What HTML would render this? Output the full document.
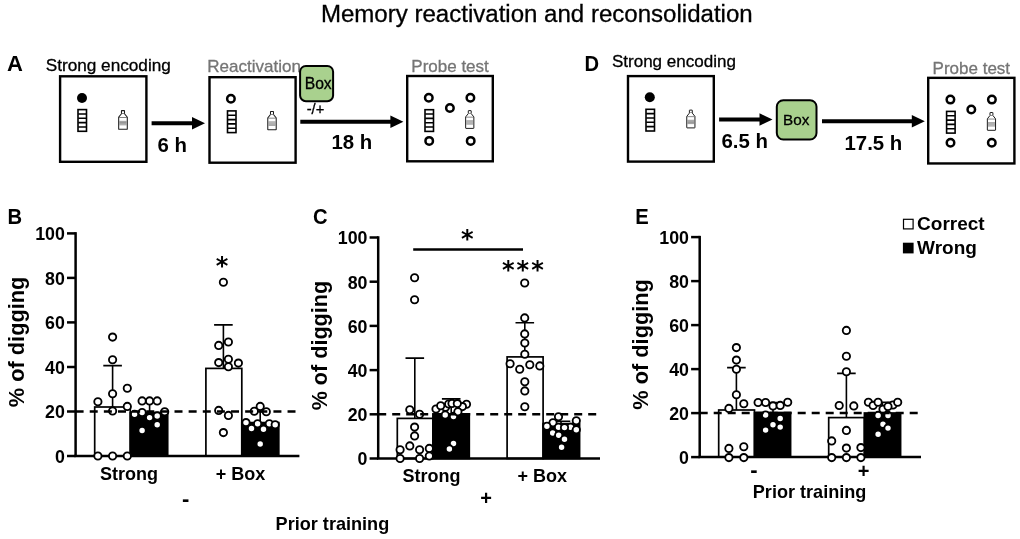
<!DOCTYPE html>
<html><head><meta charset="utf-8"><title>Memory reactivation and reconsolidation</title>
<style>
html,body{margin:0;padding:0;background:#fff;}
svg{display:block;font-family:"Liberation Sans",Arial,sans-serif;}
.b{font-weight:bold}
.box{fill:#fff;stroke:#000;stroke-width:2.400}
.ring{fill:#fff;stroke:#000;stroke-width:2.500}
.d{fill:#fff;stroke:#000;stroke-width:1.850}
.ax{stroke:#000;stroke-width:2.500;fill:none}
.eb{stroke:#000;stroke-width:1.600;fill:none}
.bw{fill:#fff;stroke:#000;stroke-width:1.700}
.bk{fill:#000;stroke:#000;stroke-width:1.700}
.dash{stroke:#000;stroke-width:2.500;fill:none}
.arr{stroke:#000;stroke-width:4;fill:none}
.g{fill:#757575;stroke:#757575;stroke-width:0.300}
.r{stroke:#000;stroke-width:0.300}
</style></head><body>
<svg width="1020" height="539" viewBox="0 0 1020 539">
<rect width="1020" height="539" fill="#fff"/>

<text x="536.8" y="22" font-size="24.05" class="r" text-anchor="middle">Memory reactivation and reconsolidation</text>
<text x="7.0" y="70.9" font-size="22" class="b" text-anchor="start">A</text>
<text x="45.7" y="70.7" font-size="17.2" class="r" text-anchor="start">Strong encoding</text>
<text x="207.3" y="72.1" font-size="17" class="g" text-anchor="start">Reactivation</text>
<text x="411.3" y="71.8" font-size="17" class="g" text-anchor="start">Probe test</text>
<rect class="box" x="60.1" y="76.3" width="86.3" height="85.5"/>
<circle cx="82.0" cy="98.0" r="5" fill="#000"/>
<g transform="translate(77.2 108.8)"><rect x="0.800" y="0.800" width="8.500" height="21.700" fill="#fff" stroke="#000" stroke-width="1.600"/><path d="M1 5.140H9.100M1 9.480H9.100M1 13.820H9.100M1 18.160H9.100" stroke="#000" stroke-width="1.600"/></g>
<g transform="translate(118.1 110.1) scale(1.05)" fill="none" stroke="#1c1c1c" stroke-width="1"><rect x="3.200" y="0.500" width="2.900" height="3" rx="0.250" fill="#fff"/><path d="M3.200 3.500L.55 6.800V18q0 .3 .3 .3h7.600q.3 0 .3-.3V6.800L6.100 3.500" fill="#fff"/><path d="M.9 7.050h7.500" stroke="#555" stroke-width="0.700"/><path d="M1.100 10.700h7.100M1.100 11.800h7.100M1.100 12.900h7.100M1.100 14h7.100" stroke="#808080" stroke-width="0.800"/></g>
<path class="arr" d="M151.6 123.2H193"/><path d="M205 123.2L192 116.9V129.5Z" fill="#000"/>
<text x="157.6" y="152.4" font-size="20.4" class="b" text-anchor="start">6 h</text>
<rect class="box" x="209.5" y="77.2" width="86.1" height="85.5"/>
<circle class="ring" cx="230.9" cy="98.8" r="3.75"/>
<g transform="translate(226.7 110.1)"><rect x="0.800" y="0.800" width="8.500" height="21.700" fill="#fff" stroke="#000" stroke-width="1.600"/><path d="M1 5.140H9.100M1 9.480H9.100M1 13.820H9.100M1 18.160H9.100" stroke="#000" stroke-width="1.600"/></g>
<g transform="translate(267.2 110.9) scale(1.03)" fill="none" stroke="#1c1c1c" stroke-width="1"><rect x="3.200" y="0.500" width="2.900" height="3" rx="0.250" fill="#fff"/><path d="M3.200 3.500L.55 6.800V18q0 .3 .3 .3h7.600q.3 0 .3-.3V6.800L6.100 3.500" fill="#fff"/><path d="M.9 7.050h7.500" stroke="#555" stroke-width="0.700"/><path d="M1.100 10.700h7.100M1.100 11.800h7.100M1.100 12.900h7.100M1.100 14h7.100" stroke="#808080" stroke-width="0.800"/></g>
<rect x="300.1" y="65.9" width="33.0" height="35.3" rx="5.8" fill="#a9d18e" stroke="#000" stroke-width="2"/>
<text x="318.2" y="88.5" font-size="15.7" class="r" text-anchor="middle">Box</text>
<text x="315.5" y="113.7" font-size="14.7" class="r" text-anchor="middle">-/+</text>
<path class="arr" d="M300.3 121.7H391.4"/><path d="M403.4 121.7L390.4 115.4V128.0Z" fill="#000"/>
<text x="331.5" y="149" font-size="20.4" class="b" text-anchor="start">18 h</text>
<rect class="box" x="407.2" y="76" width="85.6" height="85.3"/>
<circle class="ring" cx="428.8" cy="97.7" r="3.75"/>
<circle class="ring" cx="470.4" cy="97.7" r="3.75"/>
<circle class="ring" cx="449.9" cy="108" r="3.75"/>
<circle class="ring" cx="429.2" cy="140.9" r="3.75"/>
<circle class="ring" cx="470.7" cy="140.9" r="3.75"/>
<g transform="translate(424.2 108.9)"><rect x="0.800" y="0.800" width="8.500" height="21.700" fill="#fff" stroke="#000" stroke-width="1.600"/><path d="M1 5.140H9.100M1 9.480H9.100M1 13.820H9.100M1 18.160H9.100" stroke="#000" stroke-width="1.600"/></g>
<g transform="translate(465.1 110.1) scale(1)" fill="none" stroke="#1c1c1c" stroke-width="1"><rect x="3.200" y="0.500" width="2.900" height="3" rx="0.250" fill="#fff"/><path d="M3.200 3.500L.55 6.800V18q0 .3 .3 .3h7.600q.3 0 .3-.3V6.800L6.100 3.500" fill="#fff"/><path d="M.9 7.050h7.500" stroke="#555" stroke-width="0.700"/><path d="M1.100 10.700h7.100M1.100 11.800h7.100M1.100 12.900h7.100M1.100 14h7.100" stroke="#808080" stroke-width="0.800"/></g>
<text transform="translate(584.600 70.600) scale(0.94 1)" font-size="21.500" class="b">D</text>
<text x="611.9" y="66.8" font-size="17.05" class="r" text-anchor="start">Strong encoding</text>
<text x="932.6" y="73.5" font-size="17" class="g" text-anchor="start">Probe test</text>
<rect class="box" x="628" y="76.1" width="85.8" height="85.5"/>
<circle cx="649.8" cy="97.3" r="5" fill="#000"/>
<g transform="translate(645.2 108.5)"><rect x="0.800" y="0.800" width="8.500" height="21.700" fill="#fff" stroke="#000" stroke-width="1.600"/><path d="M1 5.140H9.100M1 9.480H9.100M1 13.820H9.100M1 18.160H9.100" stroke="#000" stroke-width="1.600"/></g>
<g transform="translate(686.2 109.6) scale(1)" fill="none" stroke="#1c1c1c" stroke-width="1"><rect x="3.200" y="0.500" width="2.900" height="3" rx="0.250" fill="#fff"/><path d="M3.200 3.500L.55 6.800V18q0 .3 .3 .3h7.600q.3 0 .3-.3V6.800L6.100 3.500" fill="#fff"/><path d="M.9 7.050h7.500" stroke="#555" stroke-width="0.700"/><path d="M1.100 10.700h7.100M1.100 11.800h7.100M1.100 12.900h7.100M1.100 14h7.100" stroke="#808080" stroke-width="0.800"/></g>
<path class="arr" d="M719.1 119.5H760.5"/><path d="M772.5 119.5L759.5 113.2V125.8Z" fill="#000"/>
<text x="721.5" y="148" font-size="20.4" class="b" text-anchor="start">6.5 h</text>
<rect x="776.8" y="100.2" width="39.7" height="39.3" rx="6.5" fill="#a9d18e" stroke="#000" stroke-width="2"/>
<text x="796.3" y="124.7" font-size="15.3" class="r" text-anchor="middle">Box</text>
<path class="arr" d="M822 121.3H912.8"/><path d="M924.8 121.3L911.8 115.0V127.6Z" fill="#000"/>
<text x="844.5" y="149.5" font-size="20.4" class="b" text-anchor="start">17.5 h</text>
<rect class="box" x="928.2" y="77.85" width="86.2" height="85.6"/>
<circle class="ring" cx="950.4" cy="99.6" r="3.75"/>
<circle class="ring" cx="991.9" cy="99.6" r="3.75"/>
<circle class="ring" cx="971.3" cy="109.5" r="3.75"/>
<circle class="ring" cx="950.5" cy="142.8" r="3.75"/>
<circle class="ring" cx="991.8" cy="142.8" r="3.75"/>
<g transform="translate(945.8 110.6)"><rect x="0.800" y="0.800" width="8.500" height="21.700" fill="#fff" stroke="#000" stroke-width="1.600"/><path d="M1 5.140H9.100M1 9.480H9.100M1 13.820H9.100M1 18.160H9.100" stroke="#000" stroke-width="1.600"/></g>
<g transform="translate(986.8 112) scale(1)" fill="none" stroke="#1c1c1c" stroke-width="1"><rect x="3.200" y="0.500" width="2.900" height="3" rx="0.250" fill="#fff"/><path d="M3.200 3.500L.55 6.800V18q0 .3 .3 .3h7.600q.3 0 .3-.3V6.800L6.100 3.500" fill="#fff"/><path d="M.9 7.050h7.500" stroke="#555" stroke-width="0.700"/><path d="M1.100 10.700h7.100M1.100 11.800h7.100M1.100 12.900h7.100M1.100 14h7.100" stroke="#808080" stroke-width="0.800"/></g>
<!-- chart B -->
<text transform="translate(7.4 224) scale(0.94 1)" font-size="21.500" class="b">B</text>
<text transform="translate(23.5 341.9) rotate(-90)" font-size="21.75" class="b" text-anchor="middle">% of digging</text>
<path class="ax" d="M67.0 456.0H75.6"/>
<text x="64.89999999999999" y="462.8" font-size="17.8" class="b" text-anchor="end">0</text>
<path class="ax" d="M67.0 411.5H75.6"/>
<text x="64.89999999999999" y="418.3" font-size="17.8" class="b" text-anchor="end">20</text>
<path class="ax" d="M67.0 367.0H75.6"/>
<text x="64.89999999999999" y="373.8" font-size="17.8" class="b" text-anchor="end">40</text>
<path class="ax" d="M67.0 322.4H75.6"/>
<text x="64.89999999999999" y="329.2" font-size="17.8" class="b" text-anchor="end">60</text>
<path class="ax" d="M67.0 277.9H75.6"/>
<text x="64.89999999999999" y="284.7" font-size="17.8" class="b" text-anchor="end">80</text>
<path class="ax" d="M67.0 233.4H75.6"/>
<text x="64.89999999999999" y="240.2" font-size="17.8" class="b" text-anchor="end">100</text>
<path class="eb" d="M112.6 407V365.6M103.3 365.6H121.89999999999999"/>
<rect class="bw" x="94.7" y="407" width="35.6" height="49.0"/>
<path class="eb" d="M149.6 412.5V400.9M140.29999999999998 400.9H158.9"/>
<rect class="bk" x="130.3" y="412.5" width="37.4" height="43.5"/>
<path class="eb" d="M223.4 368.4V324.9M214.1 324.9H232.70000000000002"/>
<rect class="bw" x="205.9" y="368.4" width="35.9" height="87.6"/>
<path class="eb" d="M260.2 422.6V411.6M250.89999999999998 411.6H269.5"/>
<rect class="bk" x="241.8" y="422.6" width="37.0" height="33.4"/>
<path class="ax" d="M75.6 232.15V456"/>
<path class="ax" d="M74.35 456H299.4"/>
<circle class="d" cx="112.6" cy="337.1" r="3.650"/>
<circle class="d" cx="112.6" cy="359.8" r="3.650"/>
<circle class="d" cx="127.3" cy="388.3" r="3.650"/>
<circle class="d" cx="112.6" cy="393.7" r="3.650"/>
<circle class="d" cx="97.9" cy="401.7" r="3.650"/>
<circle class="d" cx="127.3" cy="406.4" r="3.650"/>
<circle class="d" cx="112.6" cy="410.9" r="3.650"/>
<circle class="d" cx="97.9" cy="456" r="3.650"/>
<circle class="d" cx="112.6" cy="456" r="3.650"/>
<circle class="d" cx="127.3" cy="456" r="3.650"/>
<circle class="d" cx="142.1" cy="400.9" r="3.650"/>
<circle class="d" cx="149.6" cy="400.9" r="3.650"/>
<circle class="d" cx="157.2" cy="400.9" r="3.650"/>
<circle class="d" cx="134.6" cy="414.2" r="3.650"/>
<circle class="d" cx="142.1" cy="412.5" r="3.650"/>
<circle class="d" cx="149.6" cy="417.6" r="3.650"/>
<circle class="d" cx="157.2" cy="415.9" r="3.650"/>
<circle class="d" cx="164.7" cy="411.7" r="3.650"/>
<circle class="d" cx="157.2" cy="424.7" r="3.650"/>
<circle class="d" cx="142.1" cy="430.4" r="3.650"/>
<circle class="d" cx="223.4" cy="282.2" r="3.650"/>
<circle class="d" cx="228.4" cy="342" r="3.650"/>
<circle class="d" cx="218.7" cy="345.4" r="3.650"/>
<circle class="d" cx="228.4" cy="359.2" r="3.650"/>
<circle class="d" cx="218.7" cy="362.6" r="3.650"/>
<circle class="d" cx="238.4" cy="363.1" r="3.650"/>
<circle class="d" cx="228.4" cy="366.7" r="3.650"/>
<circle class="d" cx="218.7" cy="410.4" r="3.650"/>
<circle class="d" cx="228.4" cy="415.4" r="3.650"/>
<circle class="d" cx="223.4" cy="432.6" r="3.650"/>
<circle class="d" cx="260.2" cy="406.4" r="3.650"/>
<circle class="d" cx="254.3" cy="411.2" r="3.650"/>
<circle class="d" cx="266.3" cy="411.7" r="3.650"/>
<circle class="d" cx="246" cy="422.6" r="3.650"/>
<circle class="d" cx="257.6" cy="423.7" r="3.650"/>
<circle class="d" cx="269.3" cy="423.7" r="3.650"/>
<circle class="d" cx="275.2" cy="424.7" r="3.650"/>
<circle class="d" cx="251.5" cy="428.4" r="3.650"/>
<circle class="d" cx="263.5" cy="429.2" r="3.650"/>
<circle class="d" cx="260.2" cy="443.9" r="3.650"/>
<path class="dash" stroke-dasharray="8 6.13" d="M75.6 411.5H295.5"/>
<text x="129.1" y="479.7" font-size="18" class="b" text-anchor="middle">Strong</text>
<text x="240.6" y="479.7" font-size="18" class="b" text-anchor="middle">+ Box</text>
<text x="185.6" y="505.9" font-size="22" class="b" text-anchor="middle">-</text>
<text x="332.4" y="529.7" font-size="18.1" class="b" text-anchor="middle">Prior training</text>
<text x="215.85" y="273.75" font-size="24" font-weight="bold" font-family="DejaVu Sans, sans-serif" letter-spacing="2.100">*</text>
<!-- chart C -->
<text transform="translate(312.9 223.5) scale(0.94 1)" font-size="21.500" class="b">C</text>
<text transform="translate(326.5 345.6) rotate(-90)" font-size="21.6" class="b" text-anchor="middle">% of digging</text>
<path class="ax" d="M369.59999999999997 458.5H378.2"/>
<text x="367.5" y="465.3" font-size="17.8" class="b" text-anchor="end">0</text>
<path class="ax" d="M369.59999999999997 414.3H378.2"/>
<text x="367.5" y="421.1" font-size="17.8" class="b" text-anchor="end">20</text>
<path class="ax" d="M369.59999999999997 370.1H378.2"/>
<text x="367.5" y="376.9" font-size="17.8" class="b" text-anchor="end">40</text>
<path class="ax" d="M369.59999999999997 325.9H378.2"/>
<text x="367.5" y="332.7" font-size="17.8" class="b" text-anchor="end">60</text>
<path class="ax" d="M369.59999999999997 281.7H378.2"/>
<text x="367.5" y="288.5" font-size="17.8" class="b" text-anchor="end">80</text>
<path class="ax" d="M369.59999999999997 237.5H378.2"/>
<text x="367.5" y="244.3" font-size="17.8" class="b" text-anchor="end">100</text>
<path class="eb" d="M414.8 418.4V358.1M405.5 358.1H424.1"/>
<rect class="bw" x="397.3" y="418.4" width="35.6" height="40.1"/>
<path class="eb" d="M451.2 413.9V398.9M441.9 398.9H460.5"/>
<rect class="bk" x="432.9" y="413.9" width="36.4" height="44.6"/>
<path class="eb" d="M524.8 356.9V322.8M515.5 322.8H534.0999999999999"/>
<rect class="bw" x="507.1" y="356.9" width="36.0" height="101.6"/>
<path class="eb" d="M561 423.6V421.2M551.7 421.2H570.3"/>
<rect class="bk" x="543.1" y="423.6" width="36.5" height="34.9"/>
<path class="ax" d="M378.2 236.25V458.5"/>
<path class="ax" d="M376.95 458.5H600"/>
<circle class="d" cx="414.6" cy="277.8" r="3.650"/>
<circle class="d" cx="414.6" cy="299.7" r="3.650"/>
<circle class="d" cx="409.8" cy="409.7" r="3.650"/>
<circle class="d" cx="419.6" cy="414.2" r="3.650"/>
<circle class="d" cx="414.6" cy="427.1" r="3.650"/>
<circle class="d" cx="414.6" cy="435.9" r="3.650"/>
<circle class="d" cx="409.8" cy="445.9" r="3.650"/>
<circle class="d" cx="400.1" cy="449.8" r="3.650"/>
<circle class="d" cx="419.6" cy="449.8" r="3.650"/>
<circle class="d" cx="429.3" cy="448.4" r="3.650"/>
<circle class="d" cx="400.1" cy="458.5" r="3.650"/>
<circle class="d" cx="419.6" cy="458.5" r="3.650"/>
<circle class="d" cx="429.3" cy="456" r="3.650"/>
<circle class="d" cx="436" cy="409" r="3.650"/>
<circle class="d" cx="445.5" cy="407.2" r="3.650"/>
<circle class="d" cx="448.7" cy="404" r="3.650"/>
<circle class="d" cx="452" cy="403.4" r="3.650"/>
<circle class="d" cx="453.5" cy="416.4" r="3.650"/>
<circle class="d" cx="440.7" cy="405.7" r="3.650"/>
<circle class="d" cx="445.2" cy="414.9" r="3.650"/>
<circle class="d" cx="466.5" cy="404.2" r="3.650"/>
<circle class="d" cx="462.4" cy="406.6" r="3.650"/>
<circle class="d" cx="457.9" cy="411.7" r="3.650"/>
<circle class="d" cx="457.3" cy="403.6" r="3.650"/>
<circle class="d" cx="453.5" cy="443.4" r="3.650"/>
<circle class="d" cx="449.4" cy="448.9" r="3.650"/>
<circle class="d" cx="524.7" cy="283" r="3.650"/>
<circle class="d" cx="524.7" cy="317.9" r="3.650"/>
<circle class="d" cx="524.7" cy="333.9" r="3.650"/>
<circle class="d" cx="524.8" cy="343" r="3.650"/>
<circle class="d" cx="524.8" cy="354.2" r="3.650"/>
<circle class="d" cx="510.1" cy="363.7" r="3.650"/>
<circle class="d" cx="519.7" cy="369.2" r="3.650"/>
<circle class="d" cx="529.8" cy="364.7" r="3.650"/>
<circle class="d" cx="539.8" cy="365.9" r="3.650"/>
<circle class="d" cx="524.8" cy="381.7" r="3.650"/>
<circle class="d" cx="524.8" cy="390.9" r="3.650"/>
<circle class="d" cx="524.8" cy="406.8" r="3.650"/>
<circle class="d" cx="553" cy="422.7" r="3.650"/>
<circle class="d" cx="558.5" cy="416.7" r="3.650"/>
<circle class="d" cx="576.3" cy="420.7" r="3.650"/>
<circle class="d" cx="546.9" cy="426.3" r="3.650"/>
<circle class="d" cx="558.5" cy="427.2" r="3.650"/>
<circle class="d" cx="570.5" cy="427.2" r="3.650"/>
<circle class="d" cx="564.5" cy="427.6" r="3.650"/>
<circle class="d" cx="576.3" cy="429.8" r="3.650"/>
<circle class="d" cx="552.7" cy="432.9" r="3.650"/>
<circle class="d" cx="558.7" cy="435.2" r="3.650"/>
<circle class="d" cx="564.5" cy="439.2" r="3.650"/>
<circle class="d" cx="561.6" cy="447.2" r="3.650"/>
<path class="dash" stroke-dasharray="8 6.00" d="M378.2 414.3H596.3"/>
<text x="431.5" y="482" font-size="18" class="b" text-anchor="middle">Strong</text>
<text x="542.2" y="482" font-size="18" class="b" text-anchor="middle">+ Box</text>
<text x="486.2" y="505.1" font-size="20" class="b" text-anchor="middle">+</text>
<path d="M413.200 249.400H523" stroke="#000" stroke-width="2.500"/>
<text x="460.9" y="246.9" font-size="24" font-weight="bold" font-family="DejaVu Sans, sans-serif" letter-spacing="2.100">*</text>
<text x="501.9" y="278.2" font-size="24" font-weight="bold" font-family="DejaVu Sans, sans-serif" letter-spacing="2.100">***</text>
<!-- chart E -->
<text transform="translate(635.3 224.2) scale(0.94 1)" font-size="21.500" class="b">E</text>
<text transform="translate(648.2 344.4) rotate(-90)" font-size="21.75" class="b" text-anchor="middle">% of digging</text>
<path class="ax" d="M691.1 457.1H699.7"/>
<text x="689.0" y="463.9" font-size="17.8" class="b" text-anchor="end">0</text>
<path class="ax" d="M691.1 413.1H699.7"/>
<text x="689.0" y="419.9" font-size="17.8" class="b" text-anchor="end">20</text>
<path class="ax" d="M691.1 369.1H699.7"/>
<text x="689.0" y="375.9" font-size="17.8" class="b" text-anchor="end">40</text>
<path class="ax" d="M691.1 325.1H699.7"/>
<text x="689.0" y="331.9" font-size="17.8" class="b" text-anchor="end">60</text>
<path class="ax" d="M691.1 281.1H699.7"/>
<text x="689.0" y="287.9" font-size="17.8" class="b" text-anchor="end">80</text>
<path class="ax" d="M691.1 237.1H699.7"/>
<text x="689.0" y="243.9" font-size="17.8" class="b" text-anchor="end">100</text>
<path class="eb" d="M736.4 410V367.6M727.1 367.6H745.6999999999999"/>
<rect class="bw" x="718.7" y="410" width="35.8" height="47.1"/>
<path class="eb" d="M773 412.5V402.5M763.7 402.5H782.3"/>
<rect class="bk" x="754.5" y="412.5" width="36.1" height="44.6"/>
<path class="eb" d="M846.4 417.6V373.4M837.1 373.4H855.6999999999999"/>
<rect class="bw" x="828.7" y="417.6" width="35.7" height="39.5"/>
<path class="eb" d="M882.5 413V402.2M873.2 402.2H891.8"/>
<rect class="bk" x="864.4" y="413" width="36.2" height="44.1"/>
<path class="ax" d="M699.7 235.85V457.1"/>
<path class="ax" d="M698.45 457.1H921"/>
<circle class="d" cx="736.4" cy="347.6" r="3.650"/>
<circle class="d" cx="736.4" cy="360.1" r="3.650"/>
<circle class="d" cx="736.4" cy="369.3" r="3.650"/>
<circle class="d" cx="736.4" cy="394.7" r="3.650"/>
<circle class="d" cx="743.8" cy="403.7" r="3.650"/>
<circle class="d" cx="728.9" cy="408.4" r="3.650"/>
<circle class="d" cx="728.9" cy="448.4" r="3.650"/>
<circle class="d" cx="743.8" cy="446.8" r="3.650"/>
<circle class="d" cx="728.9" cy="457.6" r="3.650"/>
<circle class="d" cx="743.8" cy="457.6" r="3.650"/>
<circle class="d" cx="758.1" cy="402.5" r="3.650"/>
<circle class="d" cx="765.6" cy="402.5" r="3.650"/>
<circle class="d" cx="773" cy="405.9" r="3.650"/>
<circle class="d" cx="780.2" cy="405.4" r="3.650"/>
<circle class="d" cx="787.7" cy="402.2" r="3.650"/>
<circle class="d" cx="765.6" cy="415" r="3.650"/>
<circle class="d" cx="780.2" cy="418.4" r="3.650"/>
<circle class="d" cx="773" cy="424.7" r="3.650"/>
<circle class="d" cx="780.2" cy="427.1" r="3.650"/>
<circle class="d" cx="765.6" cy="430.1" r="3.650"/>
<circle class="d" cx="846.4" cy="330.4" r="3.650"/>
<circle class="d" cx="846.4" cy="356.2" r="3.650"/>
<circle class="d" cx="846.4" cy="371.8" r="3.650"/>
<circle class="d" cx="839.2" cy="405.5" r="3.650"/>
<circle class="d" cx="853.8" cy="405.9" r="3.650"/>
<circle class="d" cx="846.4" cy="430.4" r="3.650"/>
<circle class="d" cx="831.7" cy="440.9" r="3.650"/>
<circle class="d" cx="846.4" cy="448.1" r="3.650"/>
<circle class="d" cx="860.9" cy="447.6" r="3.650"/>
<circle class="d" cx="831.7" cy="457.6" r="3.650"/>
<circle class="d" cx="846.4" cy="457.6" r="3.650"/>
<circle class="d" cx="860.9" cy="457.6" r="3.650"/>
<circle class="d" cx="868.4" cy="402.2" r="3.650"/>
<circle class="d" cx="893" cy="405" r="3.650"/>
<circle class="d" cx="873.1" cy="405.4" r="3.650"/>
<circle class="d" cx="878.1" cy="402.2" r="3.650"/>
<circle class="d" cx="883" cy="409.2" r="3.650"/>
<circle class="d" cx="888" cy="406.4" r="3.650"/>
<circle class="d" cx="897.7" cy="402.2" r="3.650"/>
<circle class="d" cx="878.1" cy="415.4" r="3.650"/>
<circle class="d" cx="888" cy="415.4" r="3.650"/>
<circle class="d" cx="883" cy="424.2" r="3.650"/>
<circle class="d" cx="888" cy="428.1" r="3.650"/>
<circle class="d" cx="878.1" cy="434.2" r="3.650"/>
<path class="dash" stroke-dasharray="8 6.00" d="M699.7 413.1H918.2"/>
<text x="754" y="477.1" font-size="22" class="b" text-anchor="middle">-</text>
<text x="863.7" y="477.6" font-size="20" class="b" text-anchor="middle">+</text>
<text x="809.6" y="498.3" font-size="18.1" class="b" text-anchor="middle">Prior training</text>
<rect x="903.500" y="219.300" width="9.600" height="9.600" fill="#fff" stroke="#000" stroke-width="1.200"/>
<rect x="902.900" y="242.700" width="10.700" height="10.700" fill="#000"/>
<text x="917.1" y="229.8" font-size="19" class="b" text-anchor="start">Correct</text>
<text x="917.1" y="253.5" font-size="19" class="b" text-anchor="start">Wrong</text>
</svg>
</body></html>
